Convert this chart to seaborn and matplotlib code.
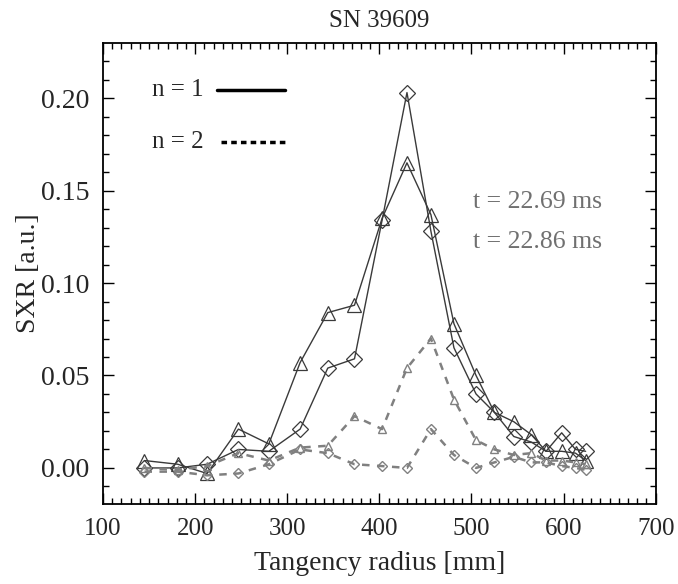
import matplotlib
matplotlib.use("Agg")
import matplotlib.pyplot as plt
import seaborn as sns
from matplotlib.ticker import MultipleLocator

# tangency radius of each SXR channel [mm]
radius = [145, 181, 213, 247, 280, 314, 344, 373, 403, 430,
          456, 481, 505, 525, 546, 565, 581, 598, 613, 624]

# n = 1 components
n1_tri = [0.004, 0.002, -0.003, 0.021, 0.013, 0.057, 0.084, 0.088, 0.135, 0.165,
          0.137, 0.078, 0.050, 0.030, 0.025, 0.018, 0.009, 0.009, 0.008, 0.004]
n1_dia = [0.000, 0.000, 0.002, 0.010, 0.009, 0.021, 0.054, 0.059, 0.134, 0.203,
          0.128, 0.065, 0.040, 0.030, 0.017, 0.014, 0.009, 0.019, 0.010, 0.009]

# n = 2 components
n2_a = [0.000, -0.001, 0.001, 0.008, 0.004, 0.011, 0.012, 0.028, 0.021, 0.054,
        0.070, 0.037, 0.015, 0.010, 0.007, 0.008, 0.004, 0.004, 0.003, 0.002]
n2_b = [-0.002, -0.002, -0.004, -0.003, 0.002, 0.010, 0.008, 0.002, 0.001, 0.000,
        0.021, 0.007, 0.000, 0.003, 0.006, 0.003, 0.003, 0.001, 0.000, -0.001]

times = ["t = 22.69 ms", "t = 22.86 ms"]

sns.set_style("ticks")
plt.rcParams["font.family"] = ["Liberation Serif", "DejaVu Serif"]

fig = plt.figure(figsize=(6.78, 5.84), dpi=100)
ax = fig.add_axes([0.152, 0.137, 0.815, 0.789])

solid = "#3a3a3a"
dash = "#808080"

sns.lineplot(x=radius, y=n1_tri, ax=ax, color=solid, lw=1.0, marker="^",
             markersize=10, markerfacecolor="none", markeredgecolor=solid,
             markeredgewidth=0.9)
sns.lineplot(x=radius, y=n1_dia, ax=ax, color=solid, lw=1.0, marker="D",
             markersize=8, markerfacecolor="none", markeredgecolor=solid,
             markeredgewidth=0.9)
sns.lineplot(x=radius, y=n2_a, ax=ax, color=dash, lw=1.8, linestyle=(0, (3, 3)),
             marker="^", markersize=6, markerfacecolor="none",
             markeredgecolor=dash, markeredgewidth=1.0)
sns.lineplot(x=radius, y=n2_b, ax=ax, color=dash, lw=1.8, linestyle=(0, (3, 3)),
             marker="D", markersize=5, markerfacecolor="none",
             markeredgecolor=dash, markeredgewidth=1.0)

ax.set_xlim(100, 700)
ax.set_ylim(-0.0195, 0.2297)
ax.xaxis.set_major_locator(MultipleLocator(100))
ax.xaxis.set_minor_locator(MultipleLocator(10))
ax.yaxis.set_major_locator(MultipleLocator(0.05))
ax.yaxis.set_minor_locator(MultipleLocator(0.01))
ax.yaxis.set_major_formatter(matplotlib.ticker.FormatStrFormatter("%.2f"))

ax.tick_params(which="both", direction="in", top=True, right=True,
               color="black", width=1.0)
ax.tick_params(which="major", length=8, pad=10)
ax.tick_params(axis="y", which="major", labelsize=20)
ax.tick_params(axis="x", which="major", labelsize=18)
ax.tick_params(which="minor", length=4)
for s in ax.spines.values():
    s.set_linewidth(1.3)
    s.set_color("black")

ax.set_title("SN 39609", fontsize=18, pad=12)
ax.set_xlabel("Tangency radius [mm]", fontsize=20, labelpad=8)
ax.set_ylabel("SXR [a.u.]", fontsize=20, labelpad=0)

# hand-drawn style legend
ax.text(0.088, 0.898, "n = 1", transform=ax.transAxes, fontsize=18,
        va="center", ha="left")
ax.plot([0.206, 0.330], [0.898, 0.898], transform=ax.transAxes,
        color="black", lw=2.5)
ax.text(0.088, 0.785, "n = 2", transform=ax.transAxes, fontsize=18,
        va="center", ha="left")
ax.plot([0.213, 0.330], [0.785, 0.785], transform=ax.transAxes,
        color="black", lw=2.5, linestyle=(0, (1.6, 1.2)))

ax.text(0.670, 0.655, times[0], transform=ax.transAxes, fontsize=18.5,
        color="#707070", va="center", ha="left")
ax.text(0.670, 0.568, times[1], transform=ax.transAxes, fontsize=18.5,
        color="#707070", va="center", ha="left")

fig.savefig("out.png", dpi=100)
